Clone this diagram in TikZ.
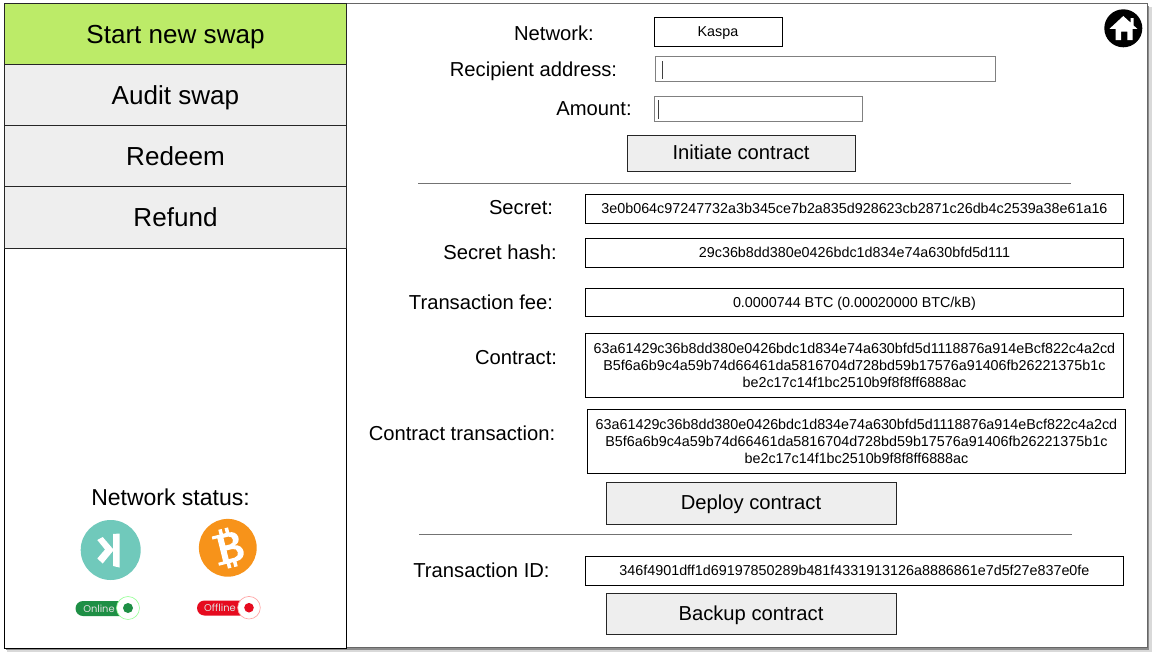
\documentclass[tikz,border=0pt]{standalone}
\usepackage{fontspec}
\setmainfont{Liberation Sans}
\newfontfamily\pillfont{Poppins}
\usepackage{tikz}
\usetikzlibrary{positioning}
\definecolor{startGreen}{HTML}{BCEB68}
\definecolor{menuGrey}{HTML}{EEEEEE}
\definecolor{kaspaTeal}{HTML}{70C9BB}
\definecolor{bitcoinOrange}{HTML}{F7931A}
\definecolor{onlineGreen}{HTML}{1E8F45}
\definecolor{offlineRed}{HTML}{E60B1F}
\tikzset{boxsize/.style 2 args={minimum width=#1*0.75pt, minimum height=#2*0.75pt}}
\tikzstyle{menuitem} = [rectangle, draw=black!85, fill=menuGrey, line width=0.75pt, inner sep=0pt, boxsize={342.4}{61}, text height=17.5pt, text depth=3.5pt, font=\fontsize{19.55}{23}\selectfont]
\tikzstyle{fieldlabel} = [inner sep=0pt, text height=13.5pt, text depth=2.7pt, font=\fontsize{15.15}{18}\selectfont]
\tikzstyle{valuebox} = [rectangle, draw=black, line width=0.75pt, fill=white, inner sep=0pt, align=center, font=\fontsize{10.75}{12.7}\selectfont]
\tikzstyle{oneline} = [text height=9.6pt, text depth=1.9pt]
\tikzstyle{inputbox} = [rectangle, draw=black!50, line width=0.75pt, fill=white, inner sep=0pt]
\tikzstyle{actionbutton} = [rectangle, draw=black!85, line width=0.75pt, fill=menuGrey, inner sep=0pt, text height=13.5pt, text depth=3.7pt, font=\fontsize{15.15}{18}\selectfont]
\tikzstyle{separator} = [black!55, line width=0.75pt]
\tikzstyle{caret} = [black!75, line width=1.2pt]
\tikzstyle{pilltext} = [inner sep=0pt, text=white!88!black, font=\pillfont\fontsize{7.4}{9}\selectfont]
\begin{document}
\begin{tikzpicture}[x=0.75pt, y=-0.75pt, node distance=45.75pt]
	\useasboundingbox (0,0) rectangle (1152,653);
	\fill [black!15] (7,7) rectangle (1151.5,651.5);
	\fill [black!45] (6,6) rectangle (1149,649.5);
	\node (mainPanel) [rectangle, draw=black!60, line width=0.75pt, fill=white, inner sep=0pt, boxsize={1143}{644}] at (575.5,325) {};
	\node (sidePanel) [rectangle, draw=black, line width=0.75pt, fill=white, inner sep=0pt, boxsize={342.4}{645}] at (175.5,325.5) {};

	\node (startSwap) [menuitem, fill=startGreen] at (175.5,34) {Start new swap};
	\node (auditSwap) [menuitem, below of=startSwap] {Audit swap};
	\node (redeemSwap) [menuitem, below of=auditSwap] {Redeem};
	\node (refundSwap) [menuitem, below of=redeemSwap, yshift=-0.375pt, boxsize={342.4}{62}] {Refund};

	\node (networkStatus) [inner sep=0pt, font=\fontsize{17.25}{21}\selectfont] at (170.5,497) {Network status:};

	\fill [kaspaTeal] (110.7,550) circle (30);
	\fill [white] (97.3,540) -- (102.7,537) -- (113,549) -- (113,534) -- (119.5,533.5) -- (119.5,567.5) -- (113,566) -- (113,551) -- (102.7,563.5) -- (97.3,558.5) -- (105,549.5) -- cycle;

	\fill [bitcoinOrange] (227.8,547.8) circle (28.9);
	\begin{scope}[shift={(228,548)}, rotate=14]
		\fill [white, even odd rule] (-13,-15) -- (4,-15) .. controls (15,-15) and (15,-2) .. (7,-1) .. controls (17,0) and (17,15) .. (5,15) -- (-13,15) -- (-13,12) -- (-8,12) -- (-8,-12) -- (-13,-12) -- cycle
			(-2,-11) -- (3,-11) .. controls (8,-11) and (8,-3) .. (3,-3) -- (-2,-3) -- cycle
			(-2,2) -- (4,2) .. controls (10,2) and (10,11) .. (4,11) -- (-2,11) -- cycle;
		\fill [white] (-5,-20) rectangle (-1.5,-14) (1.5,-20) rectangle (5,-14) (-5,14) rectangle (-1.5,20) (1.5,14) rectangle (5,20);
	\end{scope}

	\fill [onlineGreen, rounded corners=7.5*0.75pt] (75.5,601) rectangle (130,616);
	\node (onlineText) [pilltext] at (99,608.5) {Online};
	\filldraw [fill=white, draw=green!40, line width=0.5pt] (128,608) circle (11.5);
	\fill [onlineGreen] (128,608) circle (5);

	\fill [offlineRed, rounded corners=7.5*0.75pt] (197,600.5) rectangle (252,615.5);
	\node (offlineText) [pilltext] at (220,608) {Offline};
	\filldraw [fill=white, draw=red!35, line width=0.5pt] (249,607.7) circle (11.3);
	\fill [offlineRed] (249,607.7) circle (4.8);

	\fill [black] (1123.3,28.3) circle (19);
	\fill [white] (1123.3,16) -- (1130.5,22.6) -- (1130.5,18) -- (1133.5,18) -- (1133.5,25.4) -- (1137.3,28.8) -- (1132.7,28.8) -- (1132.7,40) -- (1127.3,40) -- (1127.3,31.7) -- (1121,31.7) -- (1121,40) -- (1115.7,40) -- (1115.7,28.8) -- (1109.5,28.8) -- cycle;

	\node (networkLabel) [fieldlabel] at (554,33) {Network:};
	\node (networkValue) [valuebox, oneline, boxsize={128}{29}] at (718,31.5) {Kaspa};
	\node (recipientLabel) [fieldlabel] at (533.5,69.5) {Recipient address:};
	\node (recipientInput) [inputbox, boxsize={340}{25}] at (825,68.5) {};
	\draw [caret] (662.3,61) -- (662.3,79);
	\node (amountLabel) [fieldlabel] at (594,108) {Amount:};
	\node (amountInput) [inputbox, boxsize={208}{25}] at (758.5,108.5) {};
	\draw [caret] (658.5,100) -- (658.5,119);
	\node (initiateButton) [actionbutton, boxsize={228}{36}] at (741,153) {Initiate contract};

	\draw [separator] (418,183.5) -- (1071,183.5);

	\node (secretLabel) [fieldlabel] at (521,207) {Secret:};
	\node (secretValue) [valuebox, oneline, boxsize={538.4}{29}] at (854.5,208.5) {3e0b064c97247732a3b345ce7b2a835d928623cb2871c26db4c2539a38e61a16};
	\node (hashLabel) [fieldlabel] at (500,252) {Secret hash:};
	\node (hashValue) [valuebox, oneline, boxsize={538.4}{29}] at (854.5,252.5) {29c36b8dd380e0426bdc1d834e74a630bfd5d111};
	\node (feeLabel) [fieldlabel] at (481,302) {Transaction fee:};
	\node (feeValue) [valuebox, oneline, boxsize={538.4}{28}] at (854.5,302) {0.0000744 BTC (0.00020000 BTC/kB)};
	\node (contractLabel) [fieldlabel] at (516,357) {Contract:};
	\node (contractValue) [valuebox, boxsize={538.4}{64}] at (854.5,365) {63a61429c36b8dd380e0426bdc1d834e74a630bfd5d1118876a914eBcf822c4a2cd\\B5f6a6b9c4a59b74d66461da5816704d728bd59b17576a91406fb26221375b1c\\be2c17c14f1bc2510b9f8f8ff6888ac};
	\node (transactionLabel) [fieldlabel] at (462,433) {Contract transaction:};
	\node (transactionValue) [valuebox, boxsize={538.4}{64}] at (856.5,441) {63a61429c36b8dd380e0426bdc1d834e74a630bfd5d1118876a914eBcf822c4a2cd\\B5f6a6b9c4a59b74d66461da5816704d728bd59b17576a91406fb26221375b1c\\be2c17c14f1bc2510b9f8f8ff6888ac};
	\node (deployButton) [actionbutton, boxsize={290}{42}] at (751,503) {Deploy contract};

	\draw [separator] (419,534.5) -- (1072,534.5);

	\node (transactionIdLabel) [fieldlabel] at (481.5,570) {Transaction ID:};
	\node (transactionIdValue) [valuebox, oneline, boxsize={538.4}{29}] at (854.5,570.5) {346f4901dff1d69197850289b481f4331913126a8886861e7d5f27e837e0fe};
	\node (backupButton) [actionbutton, boxsize={290}{41}] at (751,614) {Backup contract};
\end{tikzpicture}
\end{document}
